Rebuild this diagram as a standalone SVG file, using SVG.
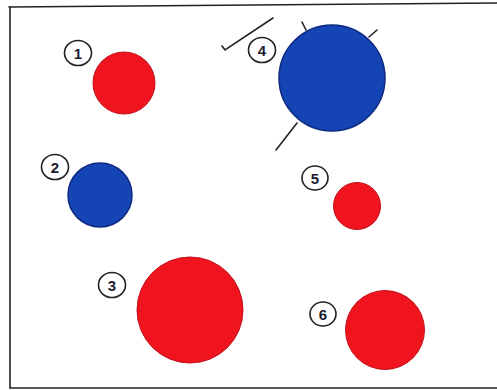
<svg xmlns="http://www.w3.org/2000/svg" width="497" height="390" viewBox="0 0 497 390">
<style>
.red{fill:#f0141e;stroke:#c0101a;stroke-width:1}
.blue{fill:#1544b4;stroke:#0c2a80;stroke-width:1.5}
.lbl ellipse{fill:#fff;stroke:#222;stroke-width:1.6}
.lbl text{font-family:"Liberation Sans",Arial,sans-serif;font-weight:bold;font-size:15px;fill:#1c1c2c;text-anchor:middle;dominant-baseline:central}
.ln{stroke:#222;stroke-width:1.6;fill:none;stroke-linecap:round}
</style>
<rect width="497" height="390" fill="#fff"/>
<g id="frame" class="ln" stroke-width="2">
<line x1="9" y1="7" x2="497" y2="3"/>
<line x1="10" y1="7" x2="10" y2="388"/>
<line x1="10" y1="388" x2="497" y2="388"/>
</g>
<g id="connectors" class="ln">
<polyline points="222,46 225,50 273,18"/>
<line x1="302" y1="22" x2="306" y2="30"/>
<line x1="377" y1="30" x2="369" y2="37"/>
<line x1="297" y1="123" x2="276" y2="150"/>
</g>
<g id="n1"><circle class="red" cx="124" cy="83" r="31"/><g class="lbl"><ellipse cx="78" cy="53" rx="13.5" ry="12.5"/><text x="78" y="53">1</text></g></g>
<g id="n2"><circle class="blue" cx="100" cy="195" r="32"/><g class="lbl"><ellipse cx="55" cy="167" rx="13.5" ry="12.5"/><text x="55" y="167">2</text></g></g>
<g id="n3"><circle class="red" cx="190" cy="310" r="53"/><g class="lbl"><ellipse cx="112" cy="285" rx="13.5" ry="12.5"/><text x="112" y="285">3</text></g></g>
<g id="n4"><circle class="blue" cx="332" cy="78" r="53"/><g class="lbl"><ellipse cx="262" cy="50" rx="13.5" ry="12.5"/><text x="262" y="50">4</text></g></g>
<g id="n5"><circle class="red" cx="357" cy="206" r="23.5"/><g class="lbl"><ellipse cx="315" cy="178" rx="13" ry="12"/><text x="315" y="178">5</text></g></g>
<g id="n6"><circle class="red" cx="385" cy="330" r="39.5"/><g class="lbl"><ellipse cx="323" cy="314" rx="13" ry="12"/><text x="323" y="314">6</text></g></g>
</svg>
